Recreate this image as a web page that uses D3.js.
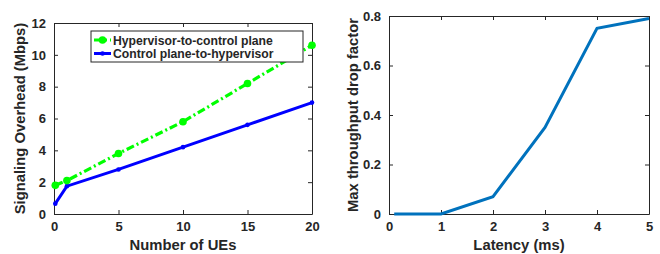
<!DOCTYPE html>
<html>
<head>
<meta charset="utf-8">
<script src="https://cdn.jsdelivr.net/npm/d3@7"></script>
<style>
body { margin: 0; background: #fff; }
text { font-family: "Liberation Sans", Arial, sans-serif; font-weight: bold; fill: #262626; }
</style>
</head>
<body>
<svg id="chart" width="660" height="254"></svg>
<script>
// left panel: signaling overhead vs number of UEs
var ues = [0.1, 1, 5, 10, 15, 20];
var hypToCtrl = [1.8, 2.1, 3.8, 5.8, 8.2, 10.6];
var ctrlToHyp = [0.65, 1.75, 2.8, 4.2, 5.6, 7.0];
var uesTicks = [0, 5, 10, 15, 20];
var overheadTicks = [0, 2, 4, 6, 8, 10, 12];

// right panel: throughput drop vs latency
var latency = [0.1, 1, 2, 3, 4, 5];
var dropFactor = [0, 0, 0.07, 0.35, 0.75, 0.79];
var latencyTicks = [0, 1, 2, 3, 4, 5];
var dropTicks = [0, 0.2, 0.4, 0.6, 0.8];

var svg = d3.select("#chart");

// draws the box, ticks in all four sides and labels, returns the group
function drawFrame(box, x, y, xt, yt, yfmt, xlabel, ylabel) {
    var g = svg.append("g").attr("transform", "translate(" + box.left + "," + box.top + ")");
    var w = box.width, h = box.height;

    g.append("g").attr("transform", "translate(0," + h + ")")
        .call(d3.axisBottom(x).tickValues(xt).tickSize(-4).tickPadding(8).tickFormat(d3.format("d")).tickSizeOuter(0))
        .call(styleAxis);
    g.append("g")
        .call(d3.axisTop(x).tickValues(xt).tickSize(-4).tickFormat("").tickSizeOuter(0))
        .call(styleAxis);
    g.append("g")
        .call(d3.axisLeft(y).tickValues(yt).tickSize(-4).tickPadding(8).tickFormat(yfmt).tickSizeOuter(0))
        .call(styleAxis);
    g.append("g").attr("transform", "translate(" + w + ",0)")
        .call(d3.axisRight(y).tickValues(yt).tickSize(-4).tickFormat("").tickSizeOuter(0))
        .call(styleAxis);

    g.append("text")
        .attr("x", w / 2).attr("y", h + 36)
        .attr("text-anchor", "middle")
        .style("font-size", "14.8px")
        .text(xlabel);
    g.append("text")
        .attr("transform", "translate(" + box.ylabelX + "," + (h / 2) + ") rotate(-90)")
        .attr("text-anchor", "middle")
        .style("font-size", "14.8px")
        .text(ylabel);
    return g;
}

function styleAxis(sel) {
    sel.select(".domain").attr("stroke", "#262626").attr("stroke-width", 1);
    sel.selectAll(".tick line").attr("stroke", "#262626");
    sel.selectAll(".tick text").style("font-size", "13px").attr("fill", "#262626");
}

// ---- left chart
var boxL = {left: 54, top: 23, width: 258, height: 191, ylabelX: -29};
var xL = d3.scaleLinear().domain([0, 20]).range([0, boxL.width]);
var yL = d3.scaleLinear().domain([0, 12]).range([boxL.height, 0]);
var gL = drawFrame(boxL, xL, yL, uesTicks, overheadTicks, d3.format("d"),
    "Number of UEs", "Signaling Overhead (Mbps)");

var lineL = function(vals) {
    return d3.line().x(function(d, i) { return xL(ues[i]); })
        .y(function(d) { return yL(d); })(vals);
};

gL.append("path").attr("d", lineL(ctrlToHyp))
    .attr("fill", "none").attr("stroke", "#0000ff").attr("stroke-width", 3);
gL.selectAll(".bdot").data(ctrlToHyp).enter().append("circle")
    .attr("cx", function(d, i) { return xL(ues[i]); })
    .attr("cy", function(d) { return yL(d); })
    .attr("r", 2.3).attr("fill", "#0000ff");

gL.append("path").attr("d", lineL(hypToCtrl))
    .attr("fill", "none").attr("stroke", "#00ff00").attr("stroke-width", 3.2)
    .attr("stroke-dasharray", "8,3,2,3");
gL.selectAll(".gdot").data(hypToCtrl).enter().append("circle")
    .attr("cx", function(d, i) { return xL(ues[i]); })
    .attr("cy", function(d) { return yL(d); })
    .attr("r", 3.8).attr("fill", "#00ff00");

// legend
var leg = svg.append("g").attr("transform", "translate(91,31)");
leg.append("rect").attr("width", 212).attr("height", 31)
    .attr("fill", "#fff").attr("stroke", "#262626").attr("stroke-width", 1);
var legItems = [
    {name: "Hypervisor-to-control plane", color: "#00ff00", dash: "8,3,2,3", r: 3.8},
    {name: "Control plane-to-hypervisor", color: "#0000ff", dash: null, r: 2.3}
];
legItems.forEach(function(it, i) {
    var yy = 9 + i * 13.5;
    leg.append("line").attr("x1", 3).attr("x2", 20).attr("y1", yy).attr("y2", yy)
        .attr("stroke", it.color).attr("stroke-width", 3)
        .attr("stroke-dasharray", it.dash);
    leg.append("circle").attr("cx", 11.5).attr("cy", yy).attr("r", it.r).attr("fill", it.color);
    leg.append("text").attr("x", 22).attr("y", yy + 4.5)
        .style("font-size", "12.2px").text(it.name);
});

// ---- right chart
var boxR = {left: 389, top: 16, width: 260, height: 198, ylabelX: -31};
var xR = d3.scaleLinear().domain([0, 5]).range([0, boxR.width]);
var yR = d3.scaleLinear().domain([0, 0.8]).range([boxR.height, 0]);
var gR = drawFrame(boxR, xR, yR, latencyTicks, dropTicks, function(d) { return d === 0 ? "0" : d3.format(".1f")(d); },
    "Latency (ms)", "Max throughput drop factor");

gR.append("path")
    .attr("d", d3.line().x(function(d, i) { return xR(latency[i]); }).y(function(d) { return yR(d); })(dropFactor))
    .attr("fill", "none").attr("stroke", "#0072bd").attr("stroke-width", 3);
</script>
</body>
</html>
